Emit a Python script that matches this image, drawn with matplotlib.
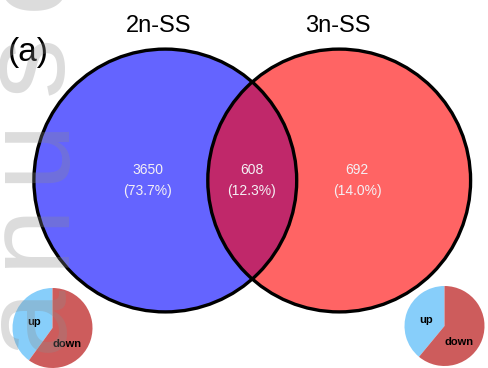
import numpy as np
import matplotlib
matplotlib.use("Agg")
import matplotlib.pyplot as plt
from matplotlib.patches import Circle

plt.rcParams['font.family'] = ['Liberation Sans', 'DejaVu Sans']

# set sizes for the two groups
set_names = ["2n-SS", "3n-SS"]
only_2n = 3650
shared = 608
only_3n = 692

# up / down split inside each group (percent)
pie_labels = ["up", "down"]
pie_2n = [40, 60]
pie_3n = [39, 61]

region_counts = [only_2n, shared, only_3n]
total = sum(region_counts)

W, H = 488, 368
fig = plt.figure(figsize=(W / 100, H / 100), dpi=100)
ax = fig.add_axes([0, 0, 1, 1])
ax.set_xlim(0, W)
ax.set_ylim(H, 0)
ax.set_aspect("equal")
ax.axis("off")

# circle layout in pixel units
r = 131.4
c_left = (165.3, 180.5)
c_right = (339.2, 180.5)
blue = "#6464FF"
red = "#FF6464"
mix = "#C0286A"

left = Circle(c_left, r, facecolor=blue, edgecolor="none", zorder=1)
right = Circle(c_right, r, facecolor=red, edgecolor="none", zorder=1)
ax.add_patch(left)
ax.add_patch(right)
overlap = Circle(c_left, r, facecolor=mix, edgecolor="none", zorder=2)
ax.add_patch(overlap)
overlap.set_clip_path(Circle(c_right, r, transform=ax.transData))
for c in (c_left, c_right):
    ax.add_patch(Circle(c, r, facecolor="none", edgecolor="black", lw=2.4, zorder=3))

# region labels
label_x = [147.5, 252, 357]
for x, n in zip(label_x, region_counts):
    ax.text(x, 170.5, str(n), ha="center", va="center", color="#F4F0F4", fontsize=10, zorder=4)
    ax.text(x, 191, "(%.1f%%)" % (100 * n / total), ha="center", va="center",
            color="#F4F0F4", fontsize=10, zorder=4)

ax.text(158.5, 26, set_names[0], ha="center", va="center", fontsize=17, zorder=4)
ax.text(338, 26, set_names[1], ha="center", va="center", fontsize=17, zorder=4)
ax.text(8, 52, "(a)", ha="left", va="center", fontsize=24, zorder=4)

# small pies with up/down ratio
def draw_pie(cx, cy, rad, vals):
    pax = fig.add_axes([(cx - rad) / W, 1 - (cy + rad) / H, 2 * rad / W, 2 * rad / H])
    pax.pie(vals, colors=["#87CEFA", "#CD5C5C"], startangle=90, counterclock=True,
            wedgeprops=dict(linewidth=0))
    pax.set_xlim(-1, 1)
    pax.set_ylim(-1, 1)
    pax.set_aspect("equal")
    pax.axis("off")
    pax.text(-0.45, 0.16, pie_labels[0], ha="center", va="center", fontsize=8, fontweight="bold")
    pax.text(0.36, -0.4, pie_labels[1], ha="center", va="center", fontsize=8, fontweight="bold")
    return pax

draw_pie(52.5, 328, 40, pie_2n)
draw_pie(444.5, 326, 40, pie_3n)

# faint letter-spaced watermark running up the left edge
wm = fig.add_axes([0, 0, 1, 1], zorder=10)
wm.set_xlim(0, W)
wm.set_ylim(H, 0)
wm.axis("off")
for i, ch in enumerate("Manuscript"):
    wm.text(62, 318 - (i - 1) * 84.5, ch, rotation=90, rotation_mode="anchor",
            ha="center", va="baseline", fontsize=87, color="#8C8C8C", alpha=0.3)

fig.savefig("out.png", dpi=100)
